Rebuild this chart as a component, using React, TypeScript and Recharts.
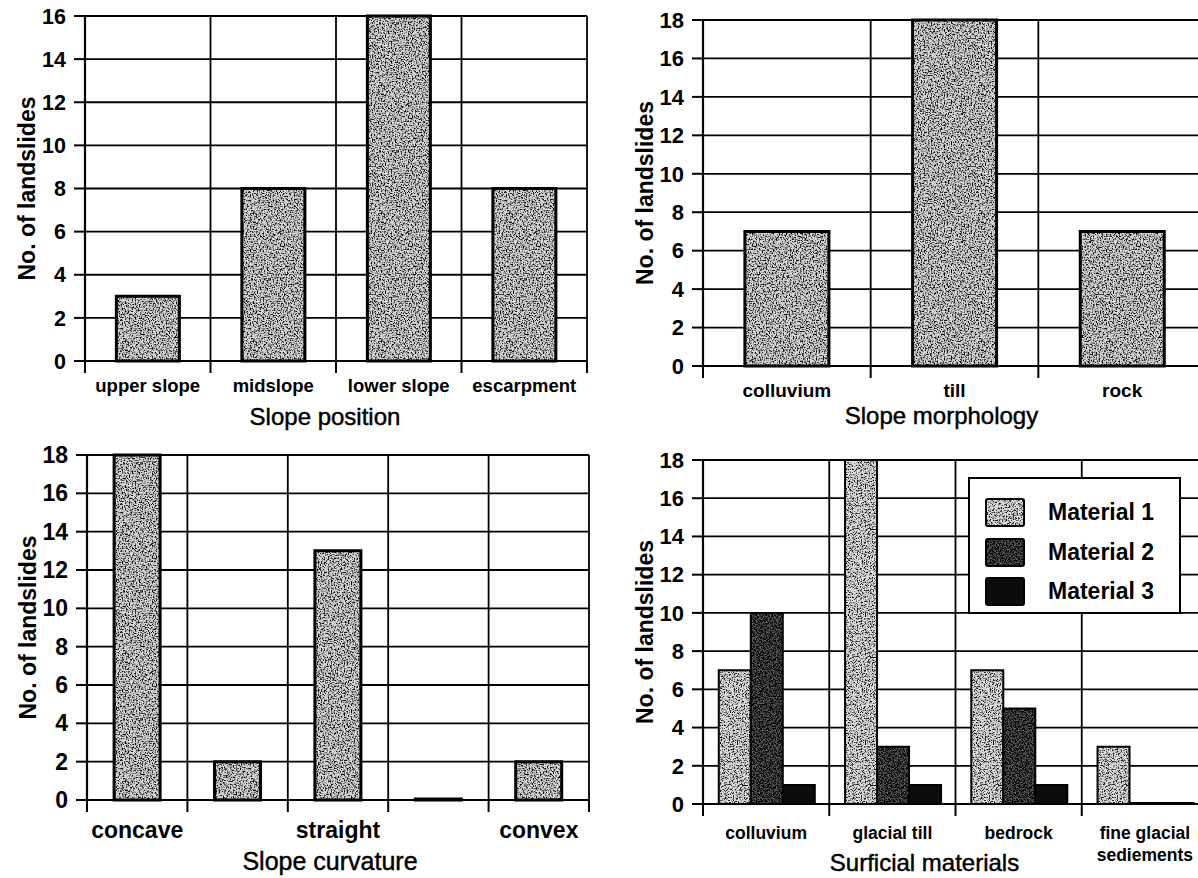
import React from 'react';
import { BarChart, Bar, XAxis, YAxis, CartesianGrid, Legend } from 'recharts';

const FONT = '"Liberation Sans", Arial, Helvetica, sans-serif';

// ---- Panel A: slope position ----
const positionCategories = ['upper slope', 'midslope', 'lower slope', 'escarpment'];
const positionCounts = [3, 8, 16, 8];

// ---- Panel B: slope morphology ----
const morphologyCategories = ['colluvium', 'till', 'rock'];
const morphologyCounts = [7, 18, 7];

// ---- Panel C: slope curvature ----
const curvatureCategories = ['concave', 'concave-straight', 'straight', 'straight-convex', 'convex'];
const curvatureTickLabels = ['concave', '', 'straight', '', 'convex'];
const curvatureCounts = [18, 2, 13, 0, 2];

// ---- Panel D: surficial materials ----
const materialCategories = ['colluvium', 'glacial till', 'bedrock', 'fine glacial sediements'];
const materialTickLabels = ['colluvium', 'glacial till', 'bedrock', 'fine glacial\nsediements'];
const material1Counts = [7, 18, 7, 3];
const material2Counts = [10, 3, 5, 0];
const material3Counts = [1, 1, 1, 0];
const materialSeriesNames = ['Material 1', 'Material 2', 'Material 3'];

const yTicks16 = [0, 2, 4, 6, 8, 10, 12, 14, 16];
const yTicks18 = [0, 2, 4, 6, 8, 10, 12, 14, 16, 18];

const yTitleText = 'No. of landslides';

const positionData = positionCategories.map((c, i) => ({ category: c, count: positionCounts[i] }));
const morphologyData = morphologyCategories.map((c, i) => ({ category: c, count: morphologyCounts[i] }));
const curvatureData = curvatureCategories.map((c, i) => ({ category: c, count: curvatureCounts[i] }));
const materialData = materialCategories.map((c, i) => ({
  category: c,
  m1: material1Counts[i],
  m2: material2Counts[i],
  m3: material3Counts[i],
}));

const boundaryLines = (n: number) => (props: any) => {
  const off = props && props.offset ? props.offset : {};
  const left = typeof off.left === 'number' ? off.left : 0;
  const w = typeof off.width === 'number' ? off.width : 0;
  const out: number[] = [];
  for (let i = 0; i <= n; i++) out.push(left + (w * i) / n);
  return out;
};

type TickCfg = {
  labels: string[];
  fontSize: number;
  baseline: number;
  lineGap: number;
  tickLen: number;
};

const makeXTick = (cfg: TickCfg) => (props: any) => {
  const { x, y, payload, index, visibleTicksCount, width } = props;
  const n = visibleTicksCount || cfg.labels.length;
  const half =
    payload && typeof payload.offset === 'number' && payload.offset > 0 ? payload.offset : width / n / 2;
  const idx = typeof index === 'number' ? index : 0;
  const label = cfg.labels[idx] || '';
  const lines = label.split('\n');
  return (
    <g>
      <line x1={x - half} x2={x - half} y1={y} y2={y + cfg.tickLen} stroke="#000" strokeWidth={2} />
      {idx === n - 1 ? (
        <line x1={x + half} x2={x + half} y1={y} y2={y + cfg.tickLen} stroke="#000" strokeWidth={2} />
      ) : null}
      {label ? (
        <text
          x={x}
          y={y + cfg.baseline}
          textAnchor="middle"
          fill="#000"
          fontFamily={FONT}
          fontWeight="bold"
          fontSize={cfg.fontSize}
        >
          {lines.map((ln, k) => (
            <tspan key={k} x={x} dy={k === 0 ? 0 : cfg.lineGap}>
              {ln}
            </tspan>
          ))}
        </text>
      ) : null}
    </g>
  );
};

const yTitle = (baselineX: number, size: number) => (props: any) => {
  const vb = props.viewBox || { y: 0, height: 0 };
  const cy = vb.y + vb.height / 2;
  return (
    <text
      x={baselineX}
      y={cy}
      transform={`rotate(-90 ${baselineX} ${cy})`}
      textAnchor="middle"
      fill="#000"
      fontFamily={FONT}
      fontWeight="bold"
      fontSize={size}
    >
      {yTitleText}
    </text>
  );
};

const xTitle = (text: string, dx: number, baseline: number, size: number) => (props: any) => {
  const vb = props.viewBox || { x: 0, y: 0, width: 0 };
  return (
    <text
      x={vb.x + vb.width / 2 + dx}
      y={vb.y + baseline}
      textAnchor="middle"
      fill="#000"
      stroke="#000"
      strokeWidth={0.45}
      fontFamily={FONT}
      fontSize={size}
    >
      {text}
    </text>
  );
};

const gridProps = { stroke: '#000', strokeWidth: 1.8 };
const axisLineProps = { stroke: '#000', strokeWidth: 2.2 };

const yTick = (size: number) => ({ fill: '#000', fontSize: size, fontWeight: 'bold', fontFamily: FONT });

const renderLegend = (props: any) => {
  const payload = (props && props.payload) || [];
  return (
    <div
      style={{
        width: 213,
        height: 137,
        boxSizing: 'border-box',
        border: '2px solid #000',
        background: '#fff',
        padding: '14px 0 0 15px',
        fontFamily: FONT,
      }}
    >
      {payload.map((entry: any, i: number) => (
        <div key={i} style={{ display: 'flex', alignItems: 'center', height: 39.5 }}>
          <svg width={40} height={29} style={{ display: 'block' }}>
            <rect x={1} y={1} width={38} height={27} rx={2} fill={entry.color} stroke="#000" strokeWidth={2} />
          </svg>
          <span style={{ marginLeft: 23, fontSize: 23, fontWeight: 'bold', color: '#000', lineHeight: '29px' }}>
            {entry.value}
          </span>
        </div>
      ))}
    </div>
  );
};

const Defs = () => (
  <svg width={0} height={0} style={{ position: 'absolute', left: 0, top: 0 }} aria-hidden="true">
    <defs>
      <filter id="grainMid" x="0" y="0" width="100%" height="100%" colorInterpolationFilters="sRGB">
        <feTurbulence type="fractalNoise" baseFrequency="0.7" numOctaves={2} seed={3} stitchTiles="stitch" />
        <feColorMatrix type="matrix" values="0 0 0 0 0  0 0 0 0 0  0 0 0 0 0  4.2 0 0 0 -1.95" />
      </filter>
      <filter id="grainLight" x="0" y="0" width="100%" height="100%" colorInterpolationFilters="sRGB">
        <feTurbulence type="fractalNoise" baseFrequency="0.75" numOctaves={2} seed={11} stitchTiles="stitch" />
        <feColorMatrix type="matrix" values="0 0 0 0 0  0 0 0 0 0  0 0 0 0 0  4.2 0 0 0 -2.0" />
      </filter>
      <filter id="grainDark" x="0" y="0" width="100%" height="100%" colorInterpolationFilters="sRGB">
        <feTurbulence type="fractalNoise" baseFrequency="0.7" numOctaves={2} seed={21} stitchTiles="stitch" />
        <feColorMatrix type="matrix" values="0 0 0 0 0  0 0 0 0 0  0 0 0 0 0  4 0 0 0 -1.5" />
      </filter>
      <pattern id="stippleMid" patternUnits="userSpaceOnUse" width={128} height={128}>
        <rect width={128} height={128} fill="#d6d6d6" />
        <rect width={128} height={128} fill="#000" filter="url(#grainMid)" />
      </pattern>
      <pattern id="stippleLight" patternUnits="userSpaceOnUse" width={128} height={128}>
        <rect width={128} height={128} fill="#dedede" />
        <rect width={128} height={128} fill="#000" filter="url(#grainLight)" />
      </pattern>
      <pattern id="stippleDark" patternUnits="userSpaceOnUse" width={128} height={128}>
        <rect width={128} height={128} fill="#5c5c5c" />
        <rect width={128} height={128} fill="#000" filter="url(#grainDark)" />
      </pattern>
    </defs>
  </svg>
);

const materialFills = ['url(#stippleLight)', 'url(#stippleDark)', '#0c0c0c'];

export default function App() {
  return (
    <div
      style={{
        position: 'absolute',
        left: 0,
        top: 0,
        width: 1198,
        height: 878,
        overflow: 'hidden',
        background: '#fff',
        fontFamily: FONT,
      }}
    >
      <Defs />

      {/* Panel A */}
      <div style={{ position: 'absolute', left: 0, top: 0 }}>
        <BarChart
          width={600}
          height={440}
          data={positionData}
          margin={{ top: 16, right: 13, left: 0, bottom: 0 }}
          barCategoryGap="25%"
        >
          <CartesianGrid {...gridProps} verticalCoordinatesGenerator={boundaryLines(positionCategories.length)} />
          <XAxis
            dataKey="category"
            height={79}
            interval={0}
            tickSize={0}
            tickMargin={0}
            axisLine={axisLineProps}
            tickLine={false}
            tick={makeXTick({ labels: positionCategories, fontSize: 18.5, baseline: 31, lineGap: 22, tickLen: 12 })}
            label={{ content: xTitle('Slope position', -11, 64, 24) }}
          />
          <YAxis
            width={85}
            domain={[0, 16]}
            ticks={yTicks16}
            interval={0}
            tickSize={11}
            tickMargin={8}
            axisLine={axisLineProps}
            tickLine={{ stroke: '#000', strokeWidth: 2 }}
            tick={yTick(21.5)}
            label={{ content: yTitle(35, 23) }}
          />
          <Bar dataKey="count" fill="url(#stippleMid)" stroke="#000" strokeWidth={3} isAnimationActive={false} />
        </BarChart>
      </div>

      {/* Panel B */}
      <div style={{ position: 'absolute', left: 600, top: 0 }}>
        <BarChart
          width={606}
          height={440}
          data={morphologyData}
          margin={{ top: 20, right: 0, left: 0, bottom: 0 }}
          barCategoryGap="25%"
        >
          <CartesianGrid {...gridProps} verticalCoordinatesGenerator={boundaryLines(morphologyCategories.length)} />
          <XAxis
            dataKey="category"
            height={74}
            interval={0}
            tickSize={0}
            tickMargin={0}
            axisLine={axisLineProps}
            tickLine={false}
            tick={makeXTick({ labels: morphologyCategories, fontSize: 19, baseline: 31, lineGap: 22, tickLen: 12 })}
            label={{ content: xTitle('Slope morphology', -13, 58, 24) }}
          />
          <YAxis
            width={103}
            domain={[0, 18]}
            ticks={yTicks18}
            interval={0}
            tickSize={11}
            tickMargin={8}
            axisLine={axisLineProps}
            tickLine={{ stroke: '#000', strokeWidth: 2 }}
            tick={yTick(22)}
            label={{ content: yTitle(53, 23) }}
          />
          <Bar dataKey="count" fill="url(#stippleMid)" stroke="#000" strokeWidth={3} isAnimationActive={false} />
        </BarChart>
      </div>

      {/* Panel C */}
      <div style={{ position: 'absolute', left: 0, top: 440 }}>
        <BarChart
          width={600}
          height={438}
          data={curvatureData}
          margin={{ top: 15, right: 11, left: 0, bottom: 0 }}
          barCategoryGap="27%"
        >
          <CartesianGrid {...gridProps} verticalCoordinatesGenerator={boundaryLines(curvatureCategories.length)} />
          <XAxis
            dataKey="category"
            height={78}
            interval={0}
            tickSize={0}
            tickMargin={0}
            axisLine={axisLineProps}
            tickLine={false}
            tick={makeXTick({ labels: curvatureTickLabels, fontSize: 23, baseline: 38, lineGap: 22, tickLen: 12 })}
            label={{ content: xTitle('Slope curvature', -8, 70, 25) }}
          />
          <YAxis
            width={87}
            domain={[0, 18]}
            ticks={yTicks18}
            interval={0}
            tickSize={11}
            tickMargin={8}
            axisLine={axisLineProps}
            tickLine={{ stroke: '#000', strokeWidth: 2 }}
            tick={yTick(23)}
            label={{ content: yTitle(36, 23) }}
          />
          <Bar
            dataKey="count"
            fill="url(#stippleMid)"
            stroke="#000"
            strokeWidth={3}
            minPointSize={1}
            isAnimationActive={false}
          />
        </BarChart>
      </div>

      {/* Panel D */}
      <div style={{ position: 'absolute', left: 600, top: 440 }}>
        <BarChart
          width={608}
          height={438}
          data={materialData}
          margin={{ top: 20, right: 0, left: 0, bottom: 0 }}
          barCategoryGap="12.5%"
          barGap={0}
        >
          <CartesianGrid {...gridProps} verticalCoordinatesGenerator={boundaryLines(materialCategories.length)} />
          <XAxis
            dataKey="category"
            height={74}
            interval={0}
            tickSize={0}
            tickMargin={0}
            axisLine={axisLineProps}
            tickLine={false}
            tick={makeXTick({ labels: materialTickLabels, fontSize: 17.5, baseline: 35, lineGap: 22, tickLen: 12 })}
            label={{ content: xTitle('Surficial materials', -31, 67, 24) }}
          />
          <YAxis
            width={103}
            domain={[0, 18]}
            ticks={yTicks18}
            interval={0}
            tickSize={11}
            tickMargin={8}
            axisLine={axisLineProps}
            tickLine={{ stroke: '#000', strokeWidth: 2 }}
            tick={yTick(22)}
            label={{ content: yTitle(53, 23) }}
          />
          <Legend
            layout="vertical"
            align="center"
            verticalAlign="middle"
            content={renderLegend}
            wrapperStyle={{ position: 'absolute', left: 368, top: 37, width: 213, height: 137 }}
          />
          <Bar
            dataKey="m1"
            name={materialSeriesNames[0]}
            fill={materialFills[0]}
            stroke="#000"
            strokeWidth={2}
            minPointSize={1}
            isAnimationActive={false}
          />
          <Bar
            dataKey="m2"
            name={materialSeriesNames[1]}
            fill={materialFills[1]}
            stroke="#000"
            strokeWidth={2}
            minPointSize={1}
            isAnimationActive={false}
          />
          <Bar
            dataKey="m3"
            name={materialSeriesNames[2]}
            fill={materialFills[2]}
            stroke="#000"
            strokeWidth={2}
            minPointSize={1}
            isAnimationActive={false}
          />
        </BarChart>
      </div>
    </div>
  );
}
